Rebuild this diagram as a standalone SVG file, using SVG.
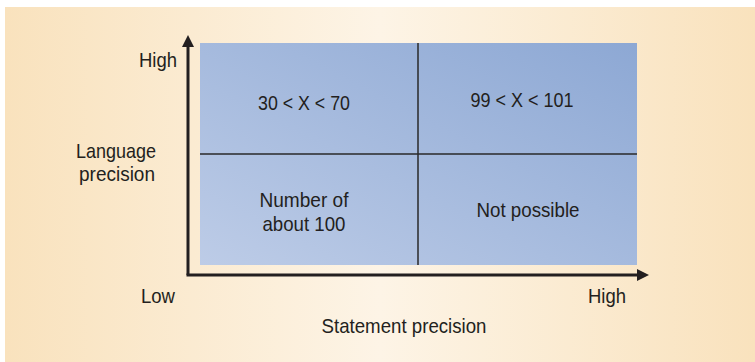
<svg xmlns="http://www.w3.org/2000/svg" width="755" height="362" viewBox="0 0 755 362">
<defs>
<linearGradient id="bg" x1="0" y1="0" x2="1" y2="0">
<stop offset="0" stop-color="#F9E2BD"/>
<stop offset="0.5" stop-color="#FDF4E6"/>
<stop offset="1" stop-color="#F9E2BD"/>
</linearGradient>
<linearGradient id="blue" x1="0" y1="1" x2="1" y2="0">
<stop offset="0" stop-color="#BDCCE7"/>
<stop offset="1" stop-color="#8DA8D4"/>
</linearGradient>
<marker id="arr" markerWidth="12" markerHeight="12" refX="0" refY="6" orient="auto" markerUnits="userSpaceOnUse">
<path d="M0,0 L12,6 L0,12 Z" fill="#231F20"/>
</marker>
<style>
text{font-family:"Liberation Sans Narrow","Liberation Sans",Arial,sans-serif;font-size:21px;fill:#231F20;text-anchor:middle}
.axis{stroke:#231F20;stroke-width:3;fill:none}
.div{stroke:#2A2A2A;stroke-width:1.5;fill:none}
</style>
</defs>
<rect x="0" y="0" width="755" height="362" fill="#FFFFFF"/>
<rect x="5" y="7" width="750" height="355" fill="url(#bg)"/>
<g id="grid">
<rect x="200" y="43" width="437" height="222" fill="url(#blue)"/>
</g>
<g id="q1"><text x="304" y="110" textLength="92" lengthAdjust="spacingAndGlyphs">30 &lt; X &lt; 70</text></g>
<g id="q2"><text x="522" y="107" textLength="103" lengthAdjust="spacingAndGlyphs">99 &lt; X &lt; 101</text></g>
<g id="q3"><text x="304" y="207" textLength="89" lengthAdjust="spacingAndGlyphs">Number of</text><text x="304" y="231" textLength="83" lengthAdjust="spacingAndGlyphs">about 100</text></g>
<g id="q4"><text x="528" y="217" textLength="103" lengthAdjust="spacingAndGlyphs">Not possible</text></g>
<g id="connectors">
<path class="div" d="M418,43 V265 M200,154 H637"/>
<path class="axis" d="M188,275 V47" marker-end="url(#arr)"/>
<path class="axis" d="M186.5,275 H637" marker-end="url(#arr)"/>
</g>
<g id="labels">
<text x="158" y="67" textLength="38" lengthAdjust="spacingAndGlyphs">High</text>
<text x="116" y="158" textLength="80" lengthAdjust="spacingAndGlyphs">Language</text>
<text x="117" y="181" textLength="76" lengthAdjust="spacingAndGlyphs">precision</text>
<text x="158" y="303" textLength="34" lengthAdjust="spacingAndGlyphs">Low</text>
<text x="607" y="303" textLength="38" lengthAdjust="spacingAndGlyphs">High</text>
<text x="404" y="333" textLength="165" lengthAdjust="spacingAndGlyphs">Statement precision</text>
</g>
</svg>
